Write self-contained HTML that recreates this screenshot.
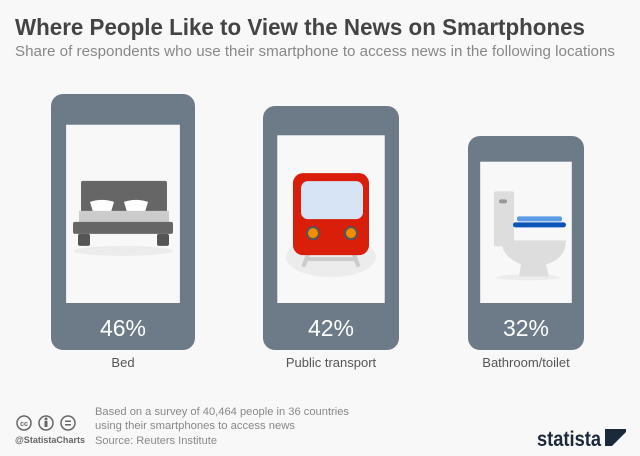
<!DOCTYPE html>
<html><head><meta charset="utf-8">
<style>
html,body{margin:0;padding:0;background:#f8f8f8;}
svg{display:block;font-family:"Liberation Sans",sans-serif;}
</style></head>
<body>
<svg id="chart" width="640" height="456" viewBox="0 0 640 456">
<rect width="640" height="456" fill="#f8f8f8"/>
<text x="15" y="35" font-size="23" font-weight="bold" fill="#444" textLength="570" lengthAdjust="spacingAndGlyphs">Where People Like to View the News on Smartphones</text>
<text x="15" y="56" font-size="15" fill="#888" textLength="600" lengthAdjust="spacingAndGlyphs">Share of respondents who use their smartphone to access news in the following locations</text>
<g id="phones"></g>
<g>
<circle cx="24" cy="423" r="7" fill="none" stroke="#666" stroke-width="1.5"/>
<text x="24" y="426" font-size="7" text-anchor="middle" fill="#666" font-weight="bold">cc</text>
<circle cx="46" cy="423" r="7" fill="none" stroke="#666" stroke-width="1.5"/>
<circle cx="46" cy="419" r="1.5" fill="#666"/><rect x="44.5" y="421" width="3" height="6" fill="#666"/>
<circle cx="68" cy="423" r="7" fill="none" stroke="#666" stroke-width="1.5"/>
<rect x="65" y="420.5" width="6" height="1.5" fill="#666"/><rect x="65" y="424" width="6" height="1.5" fill="#666"/>
<text x="15" y="443" font-size="9" font-weight="bold" fill="#666" textLength="70" lengthAdjust="spacingAndGlyphs">@StatistaCharts</text>
<text x="95" y="415" font-size="11" fill="#888" textLength="254" lengthAdjust="spacingAndGlyphs">Based on a survey of 40,464 people in 36 countries</text>
<text x="95" y="429" font-size="11" fill="#888" textLength="200" lengthAdjust="spacingAndGlyphs">using their smartphones to access news</text>
<text x="95" y="444" font-size="11" fill="#888" textLength="122" lengthAdjust="spacingAndGlyphs">Source: Reuters Institute</text>
<text x="537" y="446" font-size="21" font-weight="bold" fill="#1a2a3a" textLength="64" lengthAdjust="spacingAndGlyphs">statista</text>
<path d="M605 429 L626 429 L626 434 L614 446 L605 446 Z" fill="#1a2a3a"/>
<path d="M612 446 L626 432 L626 446 Z" fill="#f8f8f8"/>
</g>
</svg>
<script>
const categories = ["Bed", "Public transport", "Bathroom/toilet"];
const values = [46, 42, 32];
const centers = [123, 331, 526];

const NS = "http://www.w3.org/2000/svg";
const g = document.getElementById("phones");
function hScale(v){ return 118 + 3 * v; }
function wScale(v){ return 52 + 2 * v; }
function mk(tag, attrs, parent){
  const e = document.createElementNS(NS, tag);
  for (const k in attrs) e.setAttribute(k, attrs[k]);
  parent.appendChild(e);
  return e;
}
const bottom = 350;
categories.forEach((cat, i) => {
  const v = values[i];
  const h = hScale(v), w = wScale(v);
  const cx = centers[i];
  const x = cx - w / 2, y = bottom - h;
  const grp = mk("g", {}, g);
  
  
  const body = mk("rect", {x: x, y: y, width: w, height: h, rx: 12, fill: "#6d7b89"}, grp);
  
  
  const sx = x + w * 0.105, sw = w * 0.79, sy = y + h * 0.12, sh = bottom - 47 - sy;
  const scr = mk("rect", {x: sx, y: sy, width: sw, height: sh, fill: "#f8f8f8"}, grp);
  
  
  const my = sy + sh / 2;
  if (i === 0) {
    const ic = mk("g", {}, grp);
    
    
    mk("ellipse", {cx: cx, cy: my + 37, rx: 50, ry: 5, fill: "#ececec"}, ic);
    mk("rect", {x: cx - 42, y: my - 33, width: 86, height: 40, rx: 2, fill: "#666"}, ic);
    mk("path", {d: `M${cx-33} ${my-12} q12 -4 24 0 l-3 10 h-18 z`, fill: "#fff"}, ic);
    mk("path", {d: `M${cx+1} ${my-12} q12 -4 24 0 l-3 10 h-18 z`, fill: "#fff"}, ic);
    mk("rect", {x: cx - 44, y: my - 3, width: 90, height: 13, fill: "#ccc"}, ic);
    mk("rect", {x: cx - 50, y: my + 8, width: 100, height: 12, rx: 2, fill: "#666"}, ic);
    mk("rect", {x: cx - 45, y: my + 20, width: 12, height: 12, rx: 2, fill: "#555"}, ic);
    mk("rect", {x: cx + 34, y: my + 20, width: 12, height: 12, rx: 2, fill: "#555"}, ic);
  } else if (i === 1) {
    const ic = mk("g", {}, grp);
    
    
    mk("ellipse", {cx: cx, cy: my + 38, rx: 45, ry: 20, fill: "#ececec"}, ic);
    mk("path", {d: `M${cx-17} ${my+20} L${cx-27} ${my+46} M${cx+17} ${my+20} L${cx+27} ${my+46} M${cx-22} ${my+30} H${cx+22} M${cx-25} ${my+40} H${cx+25}`, stroke: "#ccc", "stroke-width": 4, "stroke-linecap": "round", fill: "none"}, ic);
    mk("rect", {x: cx - 38, y: my - 46, width: 76, height: 82, rx: 10, fill: "#d91e0a"}, ic);
    mk("rect", {x: cx - 30, y: my - 38, width: 62, height: 38, rx: 7, fill: "#d6e4f6"}, ic);
    mk("circle", {cx: cx - 18, cy: my + 14, r: 6, fill: "#f28c00", stroke: "#555", "stroke-width": 2}, ic);
    mk("circle", {cx: cx + 20, cy: my + 14, r: 6, fill: "#f28c00", stroke: "#555", "stroke-width": 2}, ic);
  } else {
    const ic = mk("g", {}, grp);
    
    
    mk("ellipse", {cx: cx + 2, cy: my + 45, rx: 32, ry: 3, fill: "#ececec"}, ic);
    mk("rect", {x: cx - 32, y: my - 41, width: 20, height: 55, rx: 2, fill: "#ddd"}, ic);
    mk("rect", {x: cx - 27, y: my - 33, width: 8, height: 4, rx: 2, fill: "#999"}, ic);
    mk("path", {d: `M${cx-24} ${my+8} H${cx+40} q0 18 -20 24 l3 12 h-30 l2 -12 q-20 -8 -19 -24 z`, fill: "#ddd"}, ic);
    mk("rect", {x: cx - 9, y: my - 16, width: 45, height: 5, rx: 2, fill: "#5b9be5"}, ic);
    mk("rect", {x: cx - 13, y: my - 10, width: 53, height: 5, rx: 2.5, fill: "#0b55b8"}, ic);
  }
  const pct = mk("text", {x: cx, y: bottom - 14, "font-size": 23, fill: "#fff", "text-anchor": "middle"}, grp);
  pct.textContent = v + "%";
  
  
  const lab = mk("text", {x: cx, y: 367, "font-size": 13, fill: "#555", "text-anchor": "middle"}, grp);
  lab.textContent = cat;
  
  
});
</script>
</body></html>
